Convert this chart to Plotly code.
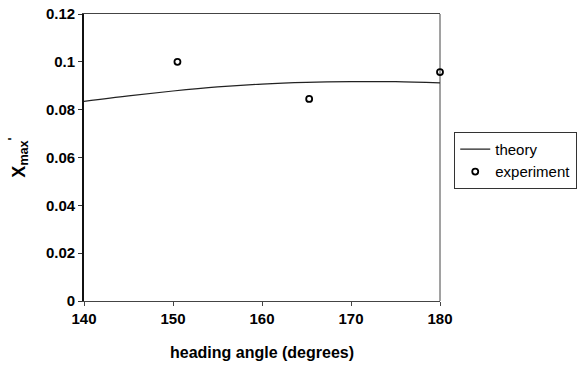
import plotly.graph_objects as go

theory_angle = [140, 145, 150, 155, 160, 165, 170, 175, 180]
theory_xmax = [0.0835, 0.0858, 0.0878, 0.0895, 0.0907, 0.0914, 0.0917, 0.0917, 0.0912]
exp_angle = [150.5, 165.3, 180]
exp_xmax = [0.1, 0.0845, 0.0957]
y_ticks = [0, 0.02, 0.04, 0.06, 0.08, 0.1, 0.12]
y_tick_labels = ["<b>0</b>", "<b>0.02</b>", "<b>0.04</b>", "<b>0.06</b>", "<b>0.08</b>", "<b>0.1</b>", "<b>0.12</b>"]
x_ticks = [140, 150, 160, 170, 180]
x_tick_labels = ["<b>140</b>", "<b>150</b>", "<b>160</b>", "<b>170</b>", "<b>180</b>"]

fig = go.Figure()
fig.add_trace(go.Scatter(x=theory_angle, y=theory_xmax, mode="lines", name="theory",
                         line=dict(color="#222", width=1.2, shape="spline")))
fig.add_trace(go.Scatter(x=exp_angle, y=exp_xmax, mode="markers", name="experiment",
                         marker=dict(symbol="circle-open", size=6, color="black", line=dict(width=1.8)),
                         cliponaxis=False))

font = dict(family="Liberation Sans, Arial, sans-serif", size=14, color="black")
fig.update_layout(
    width=577, height=383,
    margin=dict(l=84, r=137, t=14, b=82, autoexpand=False),
    paper_bgcolor="white", plot_bgcolor="white",
    font=font,
    showlegend=True,
    legend=dict(x=1.04, y=0.49, xanchor="left", yanchor="middle",
                bordercolor="#333", borderwidth=1, font=dict(size=15),
                tracegroupgap=0, itemwidth=30),
    xaxis=dict(range=[140, 180], tickvals=x_ticks, ticktext=x_tick_labels,
               showgrid=False, zeroline=False,
               showline=True, linecolor="#444", linewidth=1, mirror=True,
               ticks="outside", ticklen=4, tickcolor="#444",
               tickfont=dict(size=15, color="black"),
               title=dict(text="<b>heading angle (degrees)</b>", font=dict(size=16), standoff=20)),
    yaxis=dict(range=[0, 0.12], tickvals=y_ticks, ticktext=y_tick_labels,
               showgrid=False, zeroline=False,
               showline=True, linecolor="#111", linewidth=1.8, mirror=False,
               ticks="outside", ticklen=4, tickcolor="#333",
               tickfont=dict(size=15, color="black"),
               title=dict(text="<b>X<sub>max</sub><sup>'</sup></b>", font=dict(size=18), standoff=16)),
)
fig.add_shape(type="line", xref="paper", yref="paper", x0=1, x1=1, y0=0, y1=1,
              line=dict(color="#444", width=1), layer="below")
fig.write_html("out.html")
